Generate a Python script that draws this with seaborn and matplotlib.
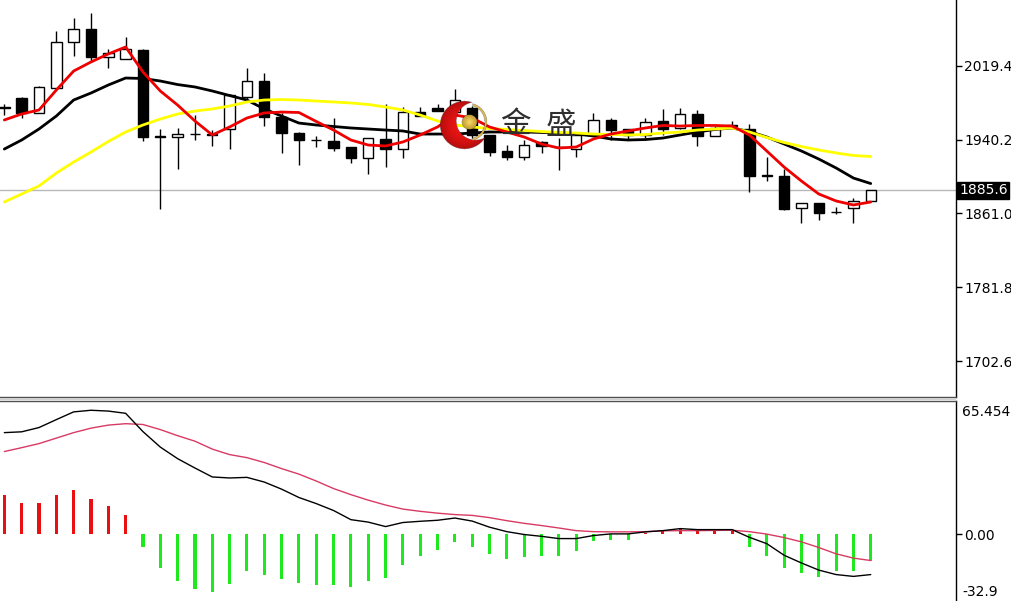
import numpy as np
import pandas as pd
import matplotlib
matplotlib.use("Agg")
import matplotlib.pyplot as plt
import matplotlib.transforms as mtransforms
from matplotlib.patches import Rectangle
import seaborn as sns

# ---------------- data ----------------
opens = [1975.1, 1985.1, 1969.0, 1995.8, 2044.5, 2058.8, 2028.4, 2026.3, 2036.2, 1943.5,
         1942.6, 1946.1, 1945.8, 1951.5, 1986.2, 2003.3, 1964.7, 1947.5, 1939.7, 1939.0,
         1931.9, 1920.1, 1941.1, 1929.7, 1969.4, 1973.7, 1969.7, 1973.7, 1945.1, 1928.2,
         1921.1, 1937.9, 1932.7, 1930.0, 1945.1, 1961.2, 1951.2, 1945.1, 1959.8, 1952.3,
         1967.6, 1944.3, 1954.7, 1951.2, 1901.1, 1901.1, 1866.4, 1872.4, 1862.1, 1866.4, 1874.3]
highs = [1978.3, 1985.8, 1997.6, 2056.6, 2070.3, 2076.3, 2037.0, 2050.5, 2036.8, 1951.2,
         1952.3, 1966.5, 1950.4, 1989.0, 2016.9, 2011.3, 1968.7, 1948.3, 1944.0, 1963.0,
         1932.2, 1941.8, 1978.3, 1974.8, 1974.8, 1978.3, 1994.4, 1976.2, 1945.5, 1934.3,
         1939.7, 1938.6, 1941.8, 1946.1, 1968.3, 1963.3, 1951.5, 1963.6, 1973.5, 1974.4,
         1971.9, 1954.7, 1960.1, 1956.5, 1921.1, 1908.6, 1872.6, 1872.6, 1868.2, 1877.8, 1886.0]
lows = [1966.5, 1963.3, 1968.7, 1995.5, 2029.8, 2023.7, 2016.6, 2026.1, 1939.0, 1865.4,
        1908.3, 1939.7, 1933.3, 1930.0, 1980.8, 1954.7, 1925.4, 1912.9, 1931.9, 1928.2,
        1915.4, 1903.2, 1910.4, 1920.1, 1965.4, 1970.8, 1966.5, 1941.8, 1922.9, 1918.3,
        1918.3, 1925.4, 1907.5, 1921.5, 1944.0, 1939.7, 1939.7, 1941.5, 1945.1, 1951.5,
        1933.6, 1944.0, 1953.7, 1884.2, 1895.7, 1865.1, 1850.4, 1853.9, 1860.0, 1850.4, 1873.8]
closes = [1974.0, 1969.0, 1996.2, 2044.5, 2058.8, 2028.4, 2032.7, 2037.0, 1943.2, 1942.9,
          1946.1, 1945.8, 1945.1, 1988.0, 2003.3, 1964.1, 1947.5, 1939.7, 1939.4, 1930.8,
          1920.1, 1941.5, 1929.7, 1970.1, 1965.8, 1971.1, 1982.6, 1945.1, 1927.2, 1921.8,
          1934.3, 1933.3, 1931.7, 1945.1, 1961.2, 1950.4, 1945.1, 1959.3, 1951.8, 1967.3,
          1944.3, 1952.9, 1955.0, 1901.1, 1901.6, 1865.7, 1872.4, 1861.1, 1862.7, 1874.3, 1885.6]

ma_fast = [1961.2, 1967.6, 1971.9, 1993.3, 2013.7, 2023.4, 2032.0, 2039.5, 2012.7, 1992.3,
           1977.2, 1960.1, 1945.1, 1953.7, 1963.3, 1968.7, 1969.7, 1969.2, 1959.6, 1950.4,
           1939.7, 1934.3, 1933.3, 1937.6, 1945.1, 1953.7, 1966.5, 1963.3, 1953.7, 1948.3,
           1942.9, 1935.4, 1931.1, 1932.2, 1940.8, 1946.1, 1949.4, 1952.6, 1955.3, 1954.7,
           1955.3, 1955.3, 1954.7, 1945.1, 1927.9, 1910.7, 1895.7, 1881.8, 1874.3, 1870.0, 1873.2]
ma_mid = [1930.0, 1939.7, 1951.5, 1965.4, 1982.6, 1990.1, 1998.7, 2006.2, 2005.7, 2003.0,
          1999.2, 1996.6, 1992.3, 1987.4, 1982.6, 1973.0, 1965.4, 1957.9, 1955.8, 1954.2,
          1952.6, 1951.5, 1950.4, 1949.4, 1946.1, 1946.1, 1946.1, 1947.2, 1948.3, 1948.3,
          1948.3, 1947.8, 1947.2, 1946.1, 1944.0, 1940.8, 1939.7, 1940.2, 1941.8, 1945.1,
          1948.3, 1951.0, 1952.6, 1948.8, 1942.9, 1935.4, 1927.9, 1919.3, 1909.7, 1898.9, 1893.0]
ma_slow = [1873.2, 1881.8, 1890.4, 1904.3, 1916.1, 1926.8, 1938.1, 1948.3, 1955.8, 1962.2,
           1967.6, 1970.8, 1973.0, 1976.2, 1980.5, 1982.6, 1983.1, 1982.6, 1981.5, 1980.5,
           1979.4, 1977.8, 1975.1, 1971.9, 1966.5, 1960.1, 1955.8, 1953.7, 1952.0, 1951.0,
           1949.9, 1948.8, 1947.8, 1947.2, 1946.1, 1945.6, 1945.1, 1945.6, 1947.2, 1948.3,
           1950.4, 1951.5, 1952.6, 1948.3, 1942.4, 1937.0, 1932.7, 1929.0, 1925.8, 1923.1, 1922.0]

macd_hist = [19.1, 15.3, 15.3, 19.1, 21.9, 17.5, 13.7, 9.6, -6.3, -16.6,
             -22.9, -26.8, -28.4, -24.3, -18.3, -19.9, -21.9, -24.0, -24.8, -25.2,
             -26.2, -22.9, -21.5, -15.3, -10.9, -7.6, -4.0, -6.3, -9.7, -12.0,
             -11.4, -10.9, -10.9, -8.1, -3.5, -2.7, -2.7, 0.4, 1.5, 3.0,
             2.2, 1.9, 1.7, -6.5, -10.9, -16.6, -19.1, -21.2, -18.0, -18.0, -13.4]
macd_dif = [49.9, 50.3, 52.4, 56.3, 60.1, 60.9, 60.5, 59.4, 50.4, 42.8,
            37.1, 32.5, 28.1, 27.6, 27.9, 25.6, 22.1, 18.0, 15.0, 11.6,
            7.1, 5.9, 3.7, 5.7, 6.3, 6.8, 7.9, 6.4, 3.4, 1.2,
            -0.2, -1.1, -2.2, -2.2, -0.7, 0.1, 0.1, 1.1, 1.7, 2.7,
            2.2, 2.2, 2.2, -1.6, -4.7, -10.4, -14.2, -17.7, -19.9, -20.8, -19.9]
macd_dea = [40.6, 42.5, 44.5, 47.2, 49.9, 52.1, 53.6, 54.3, 53.9, 51.4,
            48.4, 45.7, 41.8, 39.1, 37.6, 35.2, 32.2, 29.5, 26.1, 22.4,
            19.4, 16.7, 14.3, 12.3, 11.2, 10.3, 9.6, 9.2, 8.1, 6.6,
            5.3, 4.2, 3.0, 1.7, 1.2, 1.1, 1.1, 1.2, 1.6, 1.7,
            1.7, 1.8, 1.9, 1.2, 0.0, -1.7, -3.8, -6.6, -9.7, -11.8, -13.0]

price_ticks = [1702.6, 1781.8, 1861.0, 1940.2, 2019.4]
last_price = 1885.6
macd_top_label = 65.454
macd_bottom_label = -32.9
macd_zero_label = 0.0
logo_text = ["金", "盛"]

# ---------------- figure ----------------
sns.set_theme(style="white")
plt.rcParams["font.family"] = ["DejaVu Sans", "Noto Sans CJK SC"]

W, H = 1012, 601
PLOT_W = 956
MAIN_H = 397
fig = plt.figure(figsize=(W / 100, H / 100), dpi=100, facecolor="white")
ax = fig.add_axes([0, (H - MAIN_H) / H, PLOT_W / W, MAIN_H / H])
axm = fig.add_axes([0, 0, PLOT_W / W, 200 / H])

n = len(closes)
idx = np.arange(n)
o = np.array(opens)
c = np.array(closes)
hi = np.array(highs)
lo = np.array(lows)
up = c >= o

XLIM = (-0.25, 54.92)
YLIM = (1664.0, 2089.9)

# candles
ax.vlines(idx, lo, hi, color="black", lw=1, zorder=2)
body_lo = np.minimum(o, c)
body_h = np.maximum(np.abs(c - o), 0.6)
ax.bar(idx, body_h, bottom=body_lo, width=0.6,
       color=np.where(up, "white", "black"), edgecolor="black", linewidth=1, zorder=3)

# moving averages
df = pd.DataFrame({"i": idx, "fast": ma_fast, "mid": ma_mid, "slow": ma_slow})
sns.lineplot(data=df, x="i", y="mid", ax=ax, color="black", lw=2, zorder=5)
sns.lineplot(data=df, x="i", y="slow", ax=ax, color="#ffff00", lw=2, zorder=5)
sns.lineplot(data=df, x="i", y="fast", ax=ax, color="#ee0000", lw=2, zorder=6)

ax.axhline(last_price, color="#b8b8b8", lw=1, zorder=1)

# logo (decorative watermark, drawn above the chart)
lx0, lx1, ly0, ly1 = 436, 494, 96, 154
s = 4
gx = np.linspace(lx0, lx1, (lx1 - lx0) * s)
gy = np.linspace(ly0, ly1, (ly1 - ly0) * s)
X, Y = np.meshgrid(gx, gy)
img = np.zeros(X.shape + (4,))
d_out = np.hypot(X - 464, Y - 125)
d_in = np.hypot(X - 475, Y - 121)
cres = (d_out < 24) & (d_in > 19)
shade = np.clip(1.05 - 0.55 * (d_out / 24) ** 2, 0, 1)
img[..., 0] = np.where(cres, 0.50 + 0.42 * shade, 0)
img[..., 1] = np.where(cres, 0.02 + 0.06 * shade, 0)
img[..., 2] = np.where(cres, 0.02 + 0.06 * shade, 0)
img[..., 3] = np.where(cres, 1.0, 0)
d_ring = np.hypot(X - 467, Y - 122)
ring = (d_ring > 17) & (d_ring < 19.2) & (X > 472) & (d_out < 24.5)
img[ring] = [0.86, 0.72, 0.30, 1]
d_ball = np.hypot(X - 469, Y - 122)
ball = d_ball < 7.5
bshade = np.clip(1 - d_ball / 9, 0, 1)
img[ball, 0] = 0.70 + 0.28 * bshade[ball]
img[ball, 1] = 0.55 + 0.30 * bshade[ball]
img[ball, 2] = 0.15 + 0.25 * bshade[ball]
img[ball, 3] = 1
ax.imshow(img, extent=[lx0 / PLOT_W, lx1 / PLOT_W, 1 - ly1 / MAIN_H, 1 - ly0 / MAIN_H],
          transform=ax.transAxes, aspect="auto", zorder=6.5, interpolation="antialiased")
for ch, (cx, cy) in zip(logo_text, [(515, 124), (561, 125)]):
    ax.text(cx / PLOT_W, 1 - cy / MAIN_H, ch, transform=ax.transAxes, ha="center", va="center",
            fontsize=22, color="#2e2e2e", family=["Noto Sans CJK SC"], zorder=7)

ax.set_xlim(*XLIM)
ax.set_ylim(*YLIM)
ax.set_xlabel("")
ax.set_ylabel("")
ax.set_xticks([])
ax.yaxis.tick_right()
ax.set_yticks(price_ticks)
ax.set_yticklabels([f"{v:.1f}" for v in price_ticks])
ax.tick_params(axis="y", which="major", right=True, left=False, length=4, width=1,
               color="black", labelsize=10, pad=2, labelcolor="black")
for side in ["left", "top"]:
    ax.spines[side].set_visible(False)
ax.spines["right"].set_color("black")
ax.spines["right"].set_linewidth(1)
ax.spines["bottom"].set_color("#505050")
ax.spines["bottom"].set_linewidth(1)
ax.set_facecolor("white")

ax.text(1 + 3 / PLOT_W, last_price, f"{last_price:.1f}", transform=ax.get_yaxis_transform(),
        ha="left", va="center", color="white", fontsize=10, clip_on=False, zorder=10,
        bbox=dict(boxstyle="square,pad=0.12", fc="black", ec="black"))

# ---------------- MACD panel ----------------
h = np.array(macd_hist)
axm.bar(idx, h, width=0.18, color=np.where(h >= 0, "#e81010", "#1ee81e"), linewidth=0, zorder=2)
dm = pd.DataFrame({"i": idx, "dif": macd_dif, "dea": macd_dea})
sns.lineplot(data=dm, x="i", y="dea", ax=axm, color="#d83a64", lw=1, zorder=3)
sns.lineplot(data=dm, x="i", y="dif", ax=axm, color="black", lw=1, zorder=4)

axm.set_xlim(*XLIM)
axm.set_ylim(macd_bottom_label, macd_top_label)
axm.set_xlabel("")
axm.set_ylabel("")
axm.set_xticks([])
axm.yaxis.tick_right()
axm.set_yticks([macd_zero_label])
axm.set_yticklabels([f"{macd_zero_label:.2f}"])
axm.tick_params(axis="y", which="major", right=True, left=False, length=4, width=1,
                color="black", labelsize=10, pad=2, labelcolor="black")
for side in ["left", "bottom"]:
    axm.spines[side].set_visible(False)
axm.spines["right"].set_color("black")
axm.spines["right"].set_linewidth(1)
axm.spines["top"].set_color("#505050")
axm.spines["top"].set_linewidth(1)
axm.set_facecolor("white")

ytr = axm.get_yaxis_transform()
axm.text(1 + 6 / PLOT_W, macd_top_label, f"{macd_top_label:.3f}",
         transform=mtransforms.offset_copy(ytr, fig=fig, y=-11, units="dots"),
         ha="left", va="center", fontsize=10, color="black", clip_on=False)
axm.text(1 + 6 / PLOT_W, macd_bottom_label, f"{macd_bottom_label:.1f}",
         transform=mtransforms.offset_copy(ytr, fig=fig, y=9, units="dots"),
         ha="left", va="center", fontsize=10, color="black", clip_on=False)

# separator between panels
fig.add_artist(Rectangle((0, (H - 400) / H), PLOT_W / W, 2 / H, transform=fig.transFigure,
                         fc="#d0d0d0", ec="none", zorder=0.5))

fig.savefig("out.png", dpi=100, facecolor="white")
